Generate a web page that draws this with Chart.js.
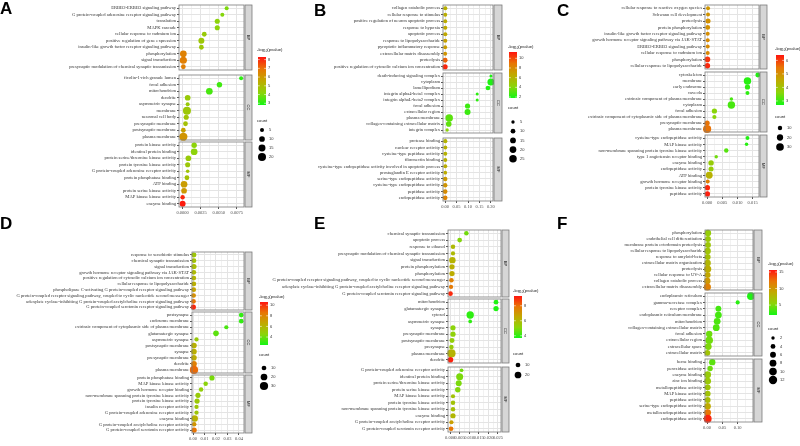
<!DOCTYPE html>
<html>
<head>
<meta charset="utf-8">
<script src="https://cdn.jsdelivr.net/npm/chart.js@4.4.1/dist/chart.umd.min.js"></script>
<style>
html,body{margin:0;padding:0;background:#fff;}
#wrap{position:relative;width:800px;height:446px;overflow:hidden;background:#fff;}
#wrap canvas{position:absolute;}
.tag{position:absolute;font:bold 17px "Liberation Sans",Arial,sans-serif;color:#000;line-height:1;}
</style>
</head>
<body>
<div id="wrap"></div>
<script>
// ---------- panel A ----------
const aBpTerms = ['ERBB2-ERBB3 signaling pathway','G protein-coupled adenosine receptor signaling pathway','translation','MAPK cascade','cellular response to cadmium ion','positive regulation of gene expression','insulin-like growth factor receptor signaling pathway','phosphorylation','signal transduction','presynaptic modulation of chemical synaptic transmission'];
const aBpX = [0.0061,0.0055,0.0048,0.0048,0.0030,0.0026,0.0026,0.0001,0.0001,0.0001];
const aBpCount = [5,5,8,8,7,11,7,14,16,7];
const aBpLogP = [4.0,4.1,4.2,4.2,4.5,4.6,4.6,6.6,6.7,6.7];
const aCcTerms = ['ficolin-1-rich granule lumen','focal adhesion','mitochondrion','dendrite','asymmetric synapse','membrane','neuronal cell body','presynaptic membrane','postsynaptic membrane','plasma membrane'];
const aCcX = [0.0081,0.0051,0.0037,0.0007,0.0007,0.0006,0.0005,0.0004,0.0001,0.0001];
const aCcCount = [5,9,14,10,5,20,8,7,7,21];
const aCcLogP = [3.1,3.3,3.4,4.5,4.5,4.6,4.7,4.8,5.8,6.1];
const aMfTerms = ['protein kinase activity','identical protein binding','protein serine/threonine kinase activity','protein tyrosine kinase activity','G protein-coupled adenosine receptor activity','protein phosphatase binding','ATP binding','protein serine kinase activity','MAP kinase kinase activity','enzyme binding'];
const aMfX = [0.0016,0.0016,0.0008,0.0007,0.0007,0.0006,0.0002,0.0002,0.0000,0.0000];
const aMfCount = [9,14,10,8,4,7,14,10,6,11];
const aMfLogP = [4.2,4.2,4.5,4.6,4.7,4.8,5.9,6.0,8.0,8.2];
const aXTicks = [0,0.0025,0.005,0.0075];
const aKeyTicks = [3,4,5,6,7,8];
const aKeyCounts = [5,10,15,20];

// ---------- panel B ----------
const bBpTerms = ['collagen catabolic process','cellular response to stimulus','positive regulation of neuron apoptotic process','response to hypoxia','apoptotic process','response to lipopolysaccharide','pyroptotic inflammatory response','extracellular matrix disassembly','proteolysis','positive regulation of cytosolic calcium ion concentration'];
const bBpX = [0.0008,0.0008,0.0008,0.0007,0.0007,0.0006,0.0005,0.0004,0.0002,0.0001];
const bBpCount = [8,7,7,8,8,8,7,7,11,12];
const bBpLogP = [6.2,6.3,6.4,6.5,6.6,6.9,7.1,7.5,9.4,10.9];
const bCcTerms = ['death-inducing signaling complex','cytoplasm','lamellipodium','integrin alpha4-beta1 complex','integrin alphaL-beta2 complex','focal adhesion','extracellular region','plasma membrane','collagen-containing extracellular matrix','integrin complex'];
const bCcX = [0.200,0.200,0.187,0.140,0.140,0.098,0.098,0.018,0.016,0.009];
const bCcCount = [4,22,10,4,4,12,16,25,14,5];
const bCcLogP = [2.0,2.0,2.1,2.3,2.3,2.6,2.6,3.2,3.3,4.2];
const bMfTerms = ['protease binding','nuclear receptor activity','cysteine-type peptidase activity','fibronectin binding','cysteine-type endopeptidase activity involved in apoptotic process','prostaglandin E receptor activity','serine-type endopeptidase activity','cysteine-type endopeptidase activity','peptidase activity','endopeptidase activity'];
const bMfX = [0.0010,0.0010,0.0010,0.0010,0.0010,0.0010,0.0005,0.0005,0.0003,0.0003];
const bMfCount = [8,7,7,7,7,6,9,9,10,10];
const bMfLogP = [6.0,6.1,6.1,6.2,6.3,6.4,7.3,7.5,7.9,8.3];
const bXTicks = [0,0.05,0.10,0.15,0.20];
const bKeyTicks = [2,4,6,8,10];
const bKeyCounts = [5,10,15,20,25];

// ---------- panel C ----------
const cBpTerms = ['cellular response to reactive oxygen species','Schwann cell development','proteolysis','protein phosphorylation','insulin-like growth factor receptor signaling pathway','growth hormone receptor signaling pathway via JAK-STAT','ERBB2-ERBB3 signaling pathway','cellular response to cadmium ion','phosphorylation','cellular response to lipopolysaccharide'];
const cBpX = [0.0003,0.0003,0.0003,0.0002,0.0002,0.0002,0.0002,0.0002,0.0001,0.0001];
const cBpCount = [8,8,13,12,8,8,8,8,16,15];
const cBpLogP = [4.9,4.95,5.0,5.0,5.05,5.1,5.1,5.15,6.1,6.2];
const cCcTerms = ['cytoskeleton','membrane','early endosome','caveola','extrinsic component of plasma membrane','cytoplasm','focal adhesion','extrinsic component of cytoplasmic side of plasma membrane','presynaptic membrane','plasma membrane'];
const cCcX = [0.0167,0.0133,0.0133,0.0133,0.0080,0.0080,0.0024,0.0024,0.0000,0.0000];
const cCcCount = [12,28,14,8,6,28,14,9,14,34];
const cCcLogP = [2.8,2.85,2.9,2.9,3.1,3.1,3.6,3.6,5.5,5.5];
const cMfTerms = ['cysteine-type endopeptidase activity','MAP kinase activity','non-membrane spanning protein tyrosine kinase activity','type 1 angiotensin receptor binding','enzyme binding','endopeptidase activity','ATP binding','growth hormone receptor binding','protein tyrosine kinase activity','peptidase activity'];
const cMfX = [0.0133,0.0130,0.0063,0.0030,0.0013,0.0013,0.0007,0.0002,0.0001,0.0001];
const cMfCount = [8,6,10,6,15,13,24,8,14,14];
const cMfLogP = [2.8,2.85,3.2,3.4,3.8,3.8,4.4,5.3,6.2,6.3];
const cXTicks = [0,0.005,0.010,0.015];
const cKeyTicks = [3,4,5,6];
const cKeyCounts = [10,20,30];

// ---------- panel D ----------
const dBpTerms = ['response to xenobiotic stimulus','chemical synaptic transmission','signal transduction','growth hormone receptor signaling pathway via JAK-STAT','positive regulation of cytosolic calcium ion concentration','cellular response to lipopolysaccharide','phospholipase C-activating G protein-coupled receptor signaling pathway','G protein-coupled receptor signaling pathway, coupled to cyclic nucleotide second messenger','adenylate cyclase-inhibiting G protein-coupled acetylcholine receptor signaling pathway','G protein-coupled serotonin receptor signaling pathway'];
const dBpX = [0.0008,0.0008,0.0008,0.0007,0.0007,0.0007,0.0006,0.0005,0.0004,0.0003];
const dBpCount = [11,10,12,10,10,10,10,10,10,12];
const dBpLogP = [5.2,5.4,5.6,5.8,6.0,6.3,6.8,7.6,8.6,10.2];
const dCcTerms = ['postsynapse','endosome membrane','extrinsic component of cytoplasmic side of plasma membrane','glutamatergic synapse','asymmetric synapse','postsynaptic membrane','synapse','presynaptic membrane','dendrite','plasma membrane'];
const dCcX = [0.042,0.042,0.029,0.020,0.003,0.0008,0.0008,0.0008,0.0008,0.0008];
const dCcCount = [10,10,8,14,8,14,14,14,15,30];
const dCcLogP = [3.0,3.0,3.4,3.7,5.0,6.2,6.3,6.4,8.2,8.8];
const dMfTerms = ['protein phosphatase binding','MAP kinase kinase activity','growth hormone receptor binding','non-membrane spanning protein tyrosine kinase activity','protein tyrosine kinase activity','insulin receptor activity','G protein-coupled adenosine receptor activity','enzyme binding','G protein-coupled acetylcholine receptor activity','G protein-coupled serotonin receptor activity'];
const dMfX = [0.0165,0.0110,0.0070,0.0043,0.0035,0.0030,0.0030,0.0015,0.0010,0.0010];
const dMfCount = [12,9,9,12,12,8,8,18,9,12];
const dMfLogP = [4.2,4.5,4.8,5.0,5.1,5.2,5.2,6.2,7.4,8.6];
const dXTicks = [0,0.01,0.02,0.03,0.04];
const dKeyTicks = [4,6,8,10];
const dKeyCounts = [10,20,30];

// ---------- panel E ----------
const eBpTerms = ['chemical synaptic transmission','apoptotic process','response to ethanol','presynaptic modulation of chemical synaptic transmission','signal transduction','protein phosphorylation','phosphorylation','G protein-coupled receptor signaling pathway, coupled to cyclic nucleotide second messenger','adenylate cyclase-inhibiting G protein-coupled acetylcholine receptor signaling pathway','G protein-coupled serotonin receptor signaling pathway'];
const eBpX = [0.0085,0.0050,0.0015,0.0015,0.0012,0.0010,0.0010,0.0007,0.0005,0.0002];
const eBpCount = [9,10,9,8,18,12,12,9,8,10];
const eBpLogP = [4.8,5.0,6.0,6.0,6.2,6.3,6.4,7.6,7.8,9.0];
const eCcTerms = ['mitochondrion','glutamatergic synapse','cytosol','asymmetric synapse','synapse','presynaptic membrane','postsynaptic membrane','presynapse','plasma membrane','dendrite'];
const eCcX = [0.0240,0.0240,0.0105,0.0105,0.0015,0.0015,0.0010,0.0007,0.0007,0.0002];
const eCcCount = [10,12,24,6,12,12,11,9,30,14];
const eCcLogP = [3.8,3.8,4.0,4.0,5.1,5.2,5.3,5.4,6.2,9.1];
const eMfTerms = ['G protein-coupled adenosine receptor activity','identical protein binding','protein serine/threonine kinase activity','protein serine kinase activity','MAP kinase kinase activity','protein tyrosine kinase activity','non-membrane spanning protein tyrosine kinase activity','enzyme binding','G protein-coupled acetylcholine receptor activity','G protein-coupled serotonin receptor activity'];
const eMfX = [0.0060,0.0050,0.0045,0.0040,0.0015,0.0015,0.0015,0.0015,0.0007,0.0005];
const eMfCount = [6,22,16,13,8,9,9,12,8,10];
const eMfLogP = [4.8,4.9,4.9,5.0,5.7,5.7,5.8,6.1,6.8,7.9];
const eXTicks = [0,0.005,0.010,0.015,0.020,0.025];
const eKeyTicks = [4,6,8];
const eKeyCounts = [10,20];

// ---------- panel F ----------
const fBpTerms = ['phosphorylation','endothelial cell differentiation','membrane protein ectodomain proteolysis','cellular response to lipopolysaccharide','response to amyloid-beta','extracellular matrix organization','proteolysis','cellular response to UV-A','collagen catabolic process','extracellular matrix disassembly'];
const fBpX = [0.003,0.003,0.003,0.002,0.002,0.002,0.002,0.002,0.001,0.001];
const fBpCount = [7,6,6,7,6,7,9,6,7,9];
const fBpLogP = [6.0,6.3,6.5,6.7,7.0,7.8,8.5,9.0,10.0,11.5];
const fCcTerms = ['endoplasmic reticulum','gamma-secretase complex','receptor complex','endoplasmic reticulum membrane','mitochondrion','collagen-containing extracellular matrix','focal adhesion','extracellular region','extracellular space','extracellular matrix'];
const fCcX = [0.143,0.100,0.037,0.037,0.033,0.030,0.007,0.007,0.004,0.001];
const fCcCount = [10,3,6,8,8,8,7,10,8,6];
const fCcLogP = [2.3,2.6,3.4,3.4,3.6,3.7,4.5,4.6,5.0,6.8];
const fMfTerms = ['heme binding','peroxidase activity','enzyme binding','zinc ion binding','metallopeptidase activity','MAP kinase activity','peptidase activity','serine-type endopeptidase activity','metalloendopeptidase activity','endopeptidase activity'];
const fMfX = [0.017,0.010,0.002,0.002,0.002,0.002,0.002,0.002,0.002,0.002];
const fMfCount = [7,5,8,8,6,6,6,7,8,11];
const fMfLogP = [4.0,4.5,6.1,6.3,6.6,6.8,7.3,8.8,12.2,15.0];
const fXTicks = [0,0.05,0.10];
const fKeyTicks = [5,10,15];
const fKeyCounts = [2,4,6,8,10,12];

const stripLabels = ['BP','CC','MF'];

// layout of the six panels (pixels)
const panels = [
  {tag:'A', tagX:0, tagY:0, col:0, plotLeft:179, plotRight:243, stripW:7,
   facets:[[5,70],[75,140],[142,207]], xMin:-0.0005, xMax:0.0085, xTicks:aXTicks, digits:4,
   sizeK:0.9, logRange:[2.8,8.3],
   data:[[aBpTerms,aBpX,aBpCount,aBpLogP],[aCcTerms,aCcX,aCcCount,aCcLogP],[aMfTerms,aMfX,aMfCount,aMfLogP]],
   key:{x:257, titleY:51, barTop:57, barBottom:105, ticks:aKeyTicks, countY:122, dotY0:130, dotStep:9, counts:aKeyCounts}},
  {tag:'B', tagX:314, tagY:2, col:262, plotLeft:443, plotRight:492, stripW:8,
   facets:[[5,70],[73,133],[138,201]], xMin:-0.009, xMax:0.209, xTicks:bXTicks, digits:2,
   sizeK:0.75, logRange:[1.8,11.3],
   data:[[bBpTerms,bBpX,bBpCount,bBpLogP],[bCcTerms,bCcX,bCcCount,bCcLogP],[bMfTerms,bMfX,bMfCount,bMfLogP]],
   key:{x:508, titleY:48, barTop:52, barBottom:98, ticks:bKeyTicks, countY:109, dotY0:122, dotStep:9.2, counts:bKeyCounts}},
  {tag:'C', tagX:557, tagY:2, col:525, plotLeft:705, plotRight:758, stripW:7,
   facets:[[5,69],[72,132],[135,197]], xMin:-0.0007, xMax:0.0171, xTicks:cXTicks, digits:3,
   sizeK:0.7, logRange:[2.7,6.4],
   data:[[cBpTerms,cBpX,cBpCount,cBpLogP],[cCcTerms,cCcX,cCcCount,cCcLogP],[cMfTerms,cMfX,cMfCount,cMfLogP]],
   key:{x:775, titleY:50, barTop:55, barBottom:105, ticks:cKeyTicks, countY:118, dotY0:128, dotStep:9.5, counts:cKeyCounts}},
  {tag:'D', tagX:0, tagY:215, col:0, plotLeft:192, plotRight:243, stripW:7,
   facets:[[252,310],[312,373],[375,433]], xMin:-0.0009, xMax:0.0444, xTicks:dXTicks, digits:2,
   sizeK:0.75, logRange:[2.5,10.6],
   data:[[dBpTerms,dBpX,dBpCount,dBpLogP],[dCcTerms,dCcX,dCcCount,dCcLogP],[dMfTerms,dMfX,dMfCount,dMfLogP]],
   key:{x:259, titleY:298, barTop:302, barBottom:345, ticks:dKeyTicks, countY:356, dotY0:368, dotStep:9, counts:dKeyCounts}},
  {tag:'E', tagX:314, tagY:215, col:262, plotLeft:448, plotRight:500, stripW:7,
   facets:[[230,297],[299,363],[367,432]], xMin:-0.0011, xMax:0.0266, xTicks:eXTicks, digits:3,
   sizeK:0.75, logRange:[3.7,9.3],
   data:[[eBpTerms,eBpX,eBpCount,eBpLogP],[eCcTerms,eCcX,eCcCount,eCcLogP],[eMfTerms,eMfX,eMfCount,eMfLogP]],
   key:{x:513, titleY:292, barTop:296, barBottom:338, ticks:eKeyTicks, countY:355, dotY0:365, dotStep:10, counts:eKeyCounts}},
  {tag:'F', tagX:557, tagY:215, col:525, plotLeft:705, plotRight:752, stripW:8,
   facets:[[230,290],[293,356],[359,422]], xMin:-0.0067, xMax:0.15, xTicks:fXTicks, digits:2,
   sizeK:1.2, logRange:[2,15.6],
   data:[[fBpTerms,fBpX,fBpCount,fBpLogP],[fCcTerms,fCcX,fCcCount,fCcLogP],[fMfTerms,fMfX,fMfCount,fMfLogP]],
   key:{x:768, titleY:265, barTop:270, barBottom:315, ticks:fKeyTicks, countY:330, dotY0:338, dotStep:8.4, counts:fKeyCounts}}
];

const wrap = document.getElementById('wrap');
const SERIF = '"Liberation Serif", "DejaVu Serif", serif';
const SANS = '"Liberation Sans", Arial, sans-serif';

// green -> red like ggplot's scale_colour_gradient(low="green", high="red")
const stops = [[0,[20,245,20]],[0.25,[140,212,10]],[0.5,[192,170,0]],[0.75,[232,118,5]],[1,[255,20,15]]];
function heat(t) {
  t = Math.max(0, Math.min(1, t));
  for (let i = 1; i < stops.length; i++) {
    if (t <= stops[i][0]) {
      const [t0, c0] = stops[i - 1], [t1, c1] = stops[i];
      const f = (t - t0) / (t1 - t0);
      return 'rgb(' + c0.map((c, j) => Math.round(c + (c1[j] - c) * f)).join(',') + ')';
    }
  }
  return 'rgb(255,20,15)';
}

function withMinor(major, min, max) {
  const step = major[1] - major[0];
  const out = [];
  for (let v = major[0] - step / 2; v <= max + 1e-12; v += step / 2) {
    if (v >= min - 1e-12) out.push(+v.toFixed(8));
  }
  return out;
}

function facetDeco(label) {
  return {
    id: 'deco',
    afterDraw(chart, args, opts) {
      const {ctx, chartArea: a} = chart;
      const sw = opts.stripW;
      ctx.save();
      ctx.strokeStyle = '#7a7a7a';
      ctx.lineWidth = 0.8;
      ctx.strokeRect(a.left, a.top, a.right - a.left, a.bottom - a.top);
      const sx = a.right + 1;
      ctx.fillStyle = '#d6d6d6';
      ctx.fillRect(sx, a.top, sw, a.bottom - a.top);
      ctx.strokeRect(sx, a.top, sw, a.bottom - a.top);
      ctx.translate(sx + sw / 2, (a.top + a.bottom) / 2);
      ctx.rotate(Math.PI / 2);
      ctx.fillStyle = '#1a1a1a';
      ctx.font = '4px ' + SANS;
      ctx.textAlign = 'center';
      ctx.textBaseline = 'middle';
      ctx.fillText(label, 0, 0);
      ctx.restore();
    }
  };
}

function makeFacet(p, fi) {
  const [terms, xs, counts, logps] = p.data[fi];
  const [top, bottom] = p.facets[fi];
  const isBottom = fi === 2;
  const padTop = 5, padBot = 5;
  const axisH = isBottom ? 10 : 0;
  const cv = document.createElement('canvas');
  cv.width = p.plotRight + p.stripW + 4 - p.col;
  cv.height = bottom - top + padTop + (isBottom ? axisH : padBot);
  cv.style.left = p.col + 'px';
  cv.style.top = (top - padTop) + 'px';
  wrap.appendChild(cv);

  const [lo, hi] = p.logRange;
  const step = p.xTicks[1] - p.xTicks[0];
  const isMajor = v => p.xTicks.some(m => Math.abs(m - v) < step * 1e-3);
  const allTicks = withMinor(p.xTicks, p.xMin, p.xMax);

  new Chart(cv, {
    type: 'scatter',
    data: {
      datasets: [{
        data: terms.map((t, i) => ({x: xs[i], y: t})),
        pointRadius: counts.map(c => p.sizeK * Math.sqrt(c)),
        pointBackgroundColor: logps.map(v => heat((v - lo) / (hi - lo))),
        pointBorderWidth: 0,
        clip: false
      }]
    },
    options: {
      responsive: false,
      animation: false,
      events: [],
      layout: {padding: {top: padTop, bottom: isBottom ? 0 : padBot, left: 0, right: p.stripW + 3}},
      plugins: {legend: {display: false}, tooltip: {enabled: false}, deco: {stripW: p.stripW}},
      scales: {
        x: {
          type: 'linear', min: p.xMin, max: p.xMax,
          afterBuildTicks: s => { s.ticks = allTicks.map(v => ({value: v})); },
          afterFit: s => { s.height = axisH; },
          ticks: {
            display: isBottom, autoSkip: false, maxRotation: 0, padding: 1,
            font: {size: 4.5, family: SERIF}, color: '#4d4d4d',
            callback: v => isMajor(v) ? v.toFixed(p.digits) : ''
          },
          grid: {
            color: c => (c.tick && isMajor(c.tick.value)) ? '#e4e4e4' : '#f2f2f2',
            drawTicks: isBottom, tickLength: 2,
            tickColor: c => (c.tick && isMajor(c.tick.value)) ? '#555' : 'rgba(0,0,0,0)'
          },
          border: {display: false}
        },
        y: {
          type: 'category', labels: terms, offset: true,
          afterFit: s => { s.width = p.plotLeft - p.col; },
          ticks: {autoSkip: false, padding: 1, font: {size: 4.6, family: SERIF}, color: '#333'},
          grid: {color: '#e4e4e4', tickLength: 2, tickColor: '#555'},
          border: {display: false}
        }
      }
    },
    plugins: [facetDeco(stripLabels[fi])]
  });
}

function keyPlugin(p, ox, oy) {
  const L = p.key;
  return {
    id: 'key',
    afterDraw(chart) {
      const ctx = chart.ctx;
      ctx.save();
      const x = L.x - ox;
      // colour bar title
      ctx.fillStyle = '#222';
      ctx.textAlign = 'left';
      ctx.textBaseline = 'alphabetic';
      let tx = x;
      const ty = L.titleY - oy;
      ctx.font = '4.2px ' + SANS;
      ctx.fillText('-log', tx, ty); tx += ctx.measureText('-log').width;
      ctx.font = '3px ' + SANS;
      ctx.fillText('10', tx, ty + 1.2); tx += ctx.measureText('10').width;
      ctx.font = '4.2px ' + SANS;
      ctx.fillText('(pvalue)', tx, ty);
      // colour bar
      const bx = x + 1, bw = 8, bt = L.barTop - oy, bb = L.barBottom - oy;
      const g = ctx.createLinearGradient(0, bb, 0, bt);
      for (let i = 0; i <= 20; i++) g.addColorStop(i / 20, heat(i / 20));
      ctx.fillStyle = g;
      ctx.fillRect(bx, bt, bw, bb - bt);
      const [lo, hi] = p.logRange;
      ctx.font = '4px ' + SANS;
      ctx.textBaseline = 'middle';
      L.ticks.forEach(v => {
        const y = bb - (v - lo) / (hi - lo) * (bb - bt);
        ctx.strokeStyle = '#fff';
        ctx.lineWidth = 0.6;
        ctx.beginPath();
        ctx.moveTo(bx, y); ctx.lineTo(bx + 1.8, y);
        ctx.moveTo(bx + bw - 1.8, y); ctx.lineTo(bx + bw, y);
        ctx.stroke();
        ctx.fillStyle = '#333';
        ctx.fillText(String(v), bx + bw + 2, y);
      });
      // size key
      ctx.textBaseline = 'alphabetic';
      ctx.fillStyle = '#222';
      ctx.font = '4.2px ' + SANS;
      ctx.fillText('count', x, L.countY - oy);
      ctx.textBaseline = 'middle';
      L.counts.forEach((c, i) => {
        const y = L.dotY0 - oy + i * L.dotStep;
        ctx.fillStyle = '#000';
        ctx.beginPath();
        ctx.arc(x + 5, y, p.sizeK * Math.sqrt(c), 0, Math.PI * 2);
        ctx.fill();
        ctx.fillStyle = '#333';
        ctx.font = '4px ' + SANS;
        ctx.fillText(String(c), x + 12, y);
      });
      ctx.restore();
    }
  };
}

function makeKey(p) {
  const L = p.key;
  const left = L.x - 3, top = L.titleY - 7;
  const bottomY = L.dotY0 + (L.counts.length - 1) * L.dotStep + 7;
  const cv = document.createElement('canvas');
  cv.width = 38;
  cv.height = Math.ceil(bottomY - top);
  cv.style.left = left + 'px';
  cv.style.top = top + 'px';
  wrap.appendChild(cv);
  new Chart(cv, {
    type: 'scatter',
    data: {datasets: []},
    options: {
      responsive: false, animation: false, events: [],
      plugins: {legend: {display: false}, tooltip: {enabled: false}},
      scales: {x: {display: false}, y: {display: false}}
    },
    plugins: [keyPlugin(p, left, top)]
  });
}

panels.forEach(p => {
  [0, 1, 2].forEach(fi => makeFacet(p, fi));
  makeKey(p);
  const t = document.createElement('div');
  t.className = 'tag';
  t.textContent = p.tag;
  t.style.left = p.tagX + 'px';
  t.style.top = p.tagY + 'px';
  wrap.appendChild(t);
});
</script>
</body>
</html>
